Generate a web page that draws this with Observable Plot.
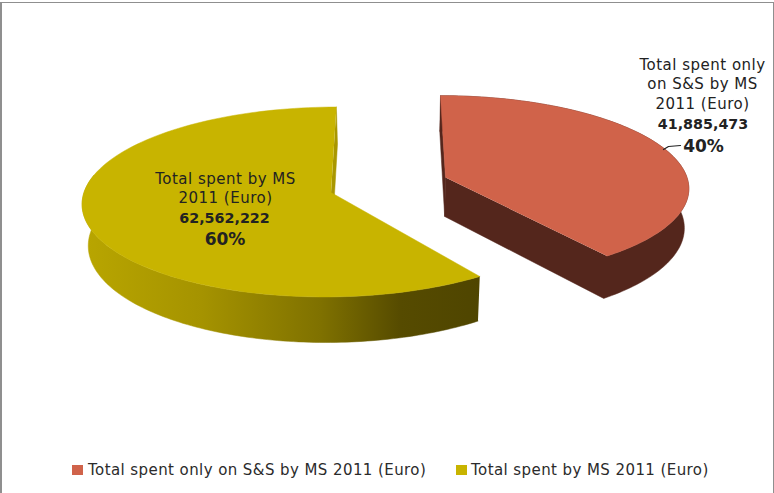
<!DOCTYPE html>
<html><head><meta charset="utf-8">
<script src="https://cdn.jsdelivr.net/npm/d3@7"></script>
<script src="https://cdn.jsdelivr.net/npm/@observablehq/plot@0.6"></script>
<style>
html,body{margin:0;padding:0;background:#fff;}
#wrap{position:relative;width:774px;height:493px;overflow:hidden;background:#fff;font-family:"DejaVu Sans",sans-serif;}
#frame{position:absolute;left:0;top:2px;width:771px;height:495px;border-left:2px solid #8f8f8f;border-top:1px solid #8f8f8f;border-right:1px solid #8f8f8f;pointer-events:none;}
#chart svg{display:block;}
.lg{position:absolute;top:461px;font-size:15px;letter-spacing:0.42px;color:#2b2b2b;white-space:nowrap;line-height:18px;}
.sw{position:absolute;top:465px;width:11px;height:10px;}
</style></head>
<body>
<div id="wrap"><div id="chart"></div>
<div id="legend"></div>
<div id="frame"></div></div>
<script>
const seriesNames = ["Total spent only on S&S by MS 2011 (Euro)", "Total spent by MS 2011 (Euro)"];
const seriesValues = [41885473, 62562222];
const seriesPercent = ["40%", "60%"];
const seriesColors = ["#d0634a", "#c8b400"];

const W = 774, H = 455;
const total = d3.sum(seriesValues);
const share = 2 * Math.PI * seriesValues[0] / total;
const cutRed = share - Math.PI / 180;
const cutYel = share + 0.7 * Math.PI / 180;

// perspective projection of the tilted pie
const vx = 390, k = 0.1;
const topPt = (s, t) => {
  const p = 1 / (1 + k * Math.cos(t));
  return {x: vx + (s.cx + s.R * Math.sin(t) - vx) * p, y: s.cy - s.Ry * Math.cos(t) * p};
};
const botPt = (s, t) => {
  const p = 1 / (1 + k * Math.cos(t)), a = topPt(s, t);
  return {x: vx + (a.x - vx) * s.lean, y: a.y + s.h * p};
};
const arc = (s, t0, t1, f) => d3.range(0, 121).map(i => f(s, t0 + (t1 - t0) * i / 120));

const red = {cx: 445, cy: 177, R: 241.5, Ry: 90, h: 39, lean: 0.985};
const yel = {cx: 330.5, cy: 192, R: 247, Ry: 94, h: 41, lean: 0.98};
const apex = s => ({x: s.cx, y: s.cy});
const apexB = s => ({x: vx + (s.cx - vx) * s.lean, y: s.cy + s.h});

const poly = (pts, fill) => Plot.line(pts, {x: "x", y: "y", fill, stroke: fill, strokeWidth: 0.5});

// red slice
const redTop = [apex(red), ...arc(red, 0, cutRed, topPt)];
const redWall = [apex(red), apexB(red), ...arc(red, cutRed, 0, botPt), ...arc(red, 0, cutRed, topPt)];
const redStart = [topPt(red, 0), apex(red), apexB(red), botPt(red, 0)];
// yellow slice
const yelTop = [apex(yel), ...arc(yel, cutYel, 2 * Math.PI, topPt)];
const yelOuter = [...arc(yel, cutYel, 1.56 * Math.PI, topPt), ...arc(yel, cutYel, 1.56 * Math.PI, botPt).reverse()];
const yelInner = [topPt(yel, 0), botPt(yel, 0), apexB(yel), apex(yel)];

const gradient = () => {
  const defs = d3.create("svg:defs");
  const g = defs.append("linearGradient").attr("id", "yelWall");
  [[0, "#b9a600"], [0.3, "#a59300"], [0.6, "#7f7100"], [0.8, "#564b00"], [1, "#4f4500"]].forEach(([o, c]) =>
    g.append("stop").attr("offset", o).attr("stop-color", c));
  return defs.node();
};

const font = "DejaVu Sans, sans-serif";
const txt = (lines, x, ys, size, weight) => Plot.text(lines, {
  text: d => d, x: () => x, y: (d, i) => ys[i], fontSize: size, fontWeight: weight,
  fontFamily: font, fill: "#222", textAnchor: "middle", lineAnchor: "middle"
});

const fmt = d3.format(",");
const plot = Plot.plot({
  width: W, height: H, margin: 0,
  x: {domain: [0, W], range: [0, W], axis: null},
  y: {domain: [0, H], range: [0, H], axis: null},
  marks: [
    gradient,
    poly(yelOuter, "url(#yelWall)"),
    poly(yelInner, "#a99700"),
    poly(yelTop, seriesColors[1]),
    poly(redStart, "#54261c"),
    poly(redWall, "#54261c"),
    poly(redTop, seriesColors[0]),
    txt(["Total spent only", "on S&S by MS", "2011 (Euro)"], 702, [65, 84, 104], 15, 400),
    txt([fmt(seriesValues[0])], 702.5, [124], 14.3, 700),
    txt([seriesPercent[0]], 703, [146], 17, 700),
    txt(["Total spent by MS", "2011 (Euro)"], 225, [179, 198], 15, 400),
    txt([fmt(seriesValues[1])], 224, [218], 14.3, 700),
    txt([seriesPercent[1]], 224.5, [239], 17, 700),
    Plot.line([{x: 663, y: 149}, {x: 668, y: 146}, {x: 680, y: 145}], {x: "x", y: "y", stroke: "#222", strokeWidth: 1.2})
  ]
});
d3.select(plot).selectAll("text").filter(function () {
  return this.getAttribute("font-weight") === "400" || (this.parentNode && this.parentNode.getAttribute("font-weight") === "400");
}).style("letter-spacing", "0.5px");
document.getElementById("chart").appendChild(plot);

const lg = d3.select("#legend");
[[72, 88], [456, 471]].forEach(([sx, tx], i) => {
  lg.append("div").attr("class", "sw").style("left", sx + "px").style("background", seriesColors[i]);
  lg.append("div").attr("class", "lg").style("left", tx + "px").text(seriesNames[i]);
});
</script>
</body></html>
